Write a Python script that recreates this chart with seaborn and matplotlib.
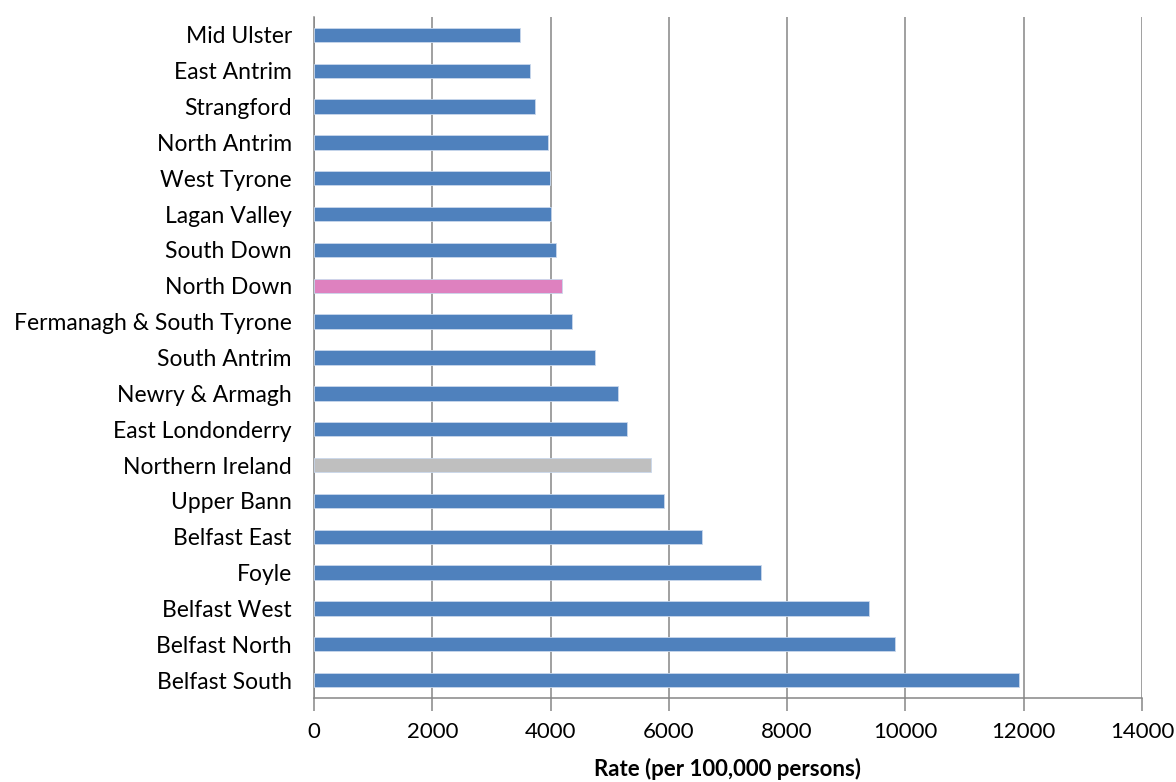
import pandas as pd
import matplotlib.pyplot as plt
import seaborn as sns

# constituencies, top to bottom as in the chart
areas = ['Mid Ulster', 'East Antrim', 'Strangford', 'North Antrim', 'West Tyrone',
         'Lagan Valley', 'South Down', 'North Down', 'Fermanagh & South Tyrone',
         'South Antrim', 'Newry & Armagh', 'East Londonderry', 'Northern Ireland',
         'Upper Bann', 'Belfast East', 'Foyle', 'Belfast West', 'Belfast North',
         'Belfast South']
rates = [3480, 3655, 3745, 3950, 3990, 4005, 4090, 4195, 4360,
         4745, 5135, 5295, 5705, 5910, 6565, 7555, 9380, 9825, 11925]

blue = '#4F81BD'
colours = {a: blue for a in areas}
colours['North Down'] = '#DE81BF'
colours['Northern Ireland'] = '#BFBFBF'

df = pd.DataFrame({'Area': areas, 'Rate': rates})

sns.set_style('white')
plt.rcParams['font.family'] = ['Lato', 'DejaVu Sans']
plt.rcParams['text.color'] = 'black'
plt.rcParams['xtick.color'] = 'black'
plt.rcParams['ytick.color'] = 'black'
plt.rcParams['axes.labelcolor'] = 'black'

fig = plt.figure(figsize=(11.76, 7.82), dpi=100)
ax = fig.add_axes([314 / 1176, 1 - 698 / 782, (1142 - 314) / 1176, (698 - 17) / 782])

sns.barplot(data=df, x='Rate', y='Area', hue='Area', palette=colours, legend=False,
            saturation=1, width=0.4, edgecolor='#C9D8EC', linewidth=0.6, ax=ax, zorder=3)

ax.set_xlim(0, 14000)
ax.set_xticks(range(0, 14001, 2000))
ax.grid(axis='x', color='#868686', linewidth=1.1, zorder=0)
ax.set_axisbelow(True)

for s in ['top', 'right']:
    ax.spines[s].set_visible(False)
for s in ['left', 'bottom']:
    ax.spines[s].set_color('#868686')
    ax.spines[s].set_linewidth(1.1)

ax.tick_params(axis='x', direction='out', length=9, width=1.1, color='#868686',
               labelcolor='black', labelsize=16, pad=8, bottom=True)
ax.tick_params(axis='y', length=0, labelsize=16.5, pad=16, labelcolor='black')
ax.set_ylabel('')
ax.set_xlabel('Rate (per 100,000 persons)', fontsize=16, fontweight='bold', labelpad=12)

plt.savefig('out.png', dpi=100)
